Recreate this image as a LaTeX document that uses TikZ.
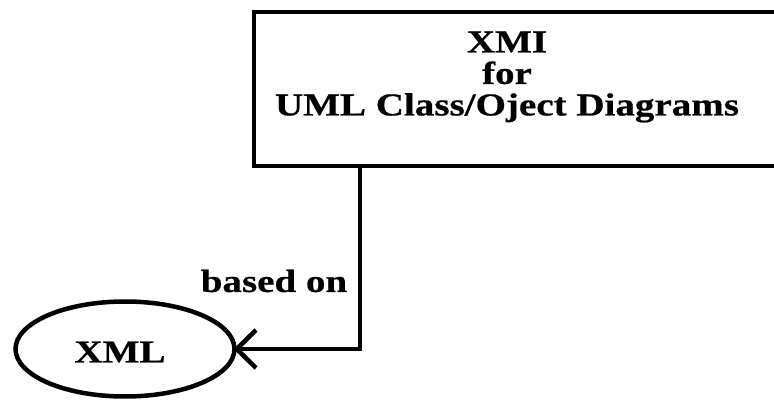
\documentclass[tikz,border=0pt]{standalone}
\usepackage{fontspec}
\setmainfont{Liberation Serif}
\newfontfamily\widebold[FakeStretch=1.22,BoldFeatures={FakeBold=0.6}]{Liberation Serif}
\usetikzlibrary{shapes.geometric}
\begin{document}
\begin{tikzpicture}[x=1pt,y=-1pt,
  thick line/.style={line width=4.5pt},
  label text/.style={font=\widebold\bfseries\fontsize{32}{31.5}\selectfont, inner sep=0pt}]
\useasboundingbox (0,0) rectangle (774,403);
\begin{scope}
\clip (0,0) rectangle (774,403);
% box running off the right edge
\draw[thick line] (254,12) rectangle (800,166);
\end{scope}
\coordinate (boxfoot) at (360,166);
\node[label text, align=center] (title) at (507,77)
  {XMI\\for\\UML Class/Oject Diagrams};
\node[draw, thick line, ellipse, minimum width=219, minimum height=95, inner sep=0pt] (xml) at (125,349) {};
\node[label text] (xmltext) at (120,352) {XML};
\coordinate (bend) at (360,349);
\draw[thick line] (boxfoot) -- (bend) -- (xml.east);
% open arrow head
\draw[thick line] (256,330) -- (xml.east) -- (256,368);
\node[label text] (based) at (274,281) {based on};
\end{tikzpicture}
\end{document}
